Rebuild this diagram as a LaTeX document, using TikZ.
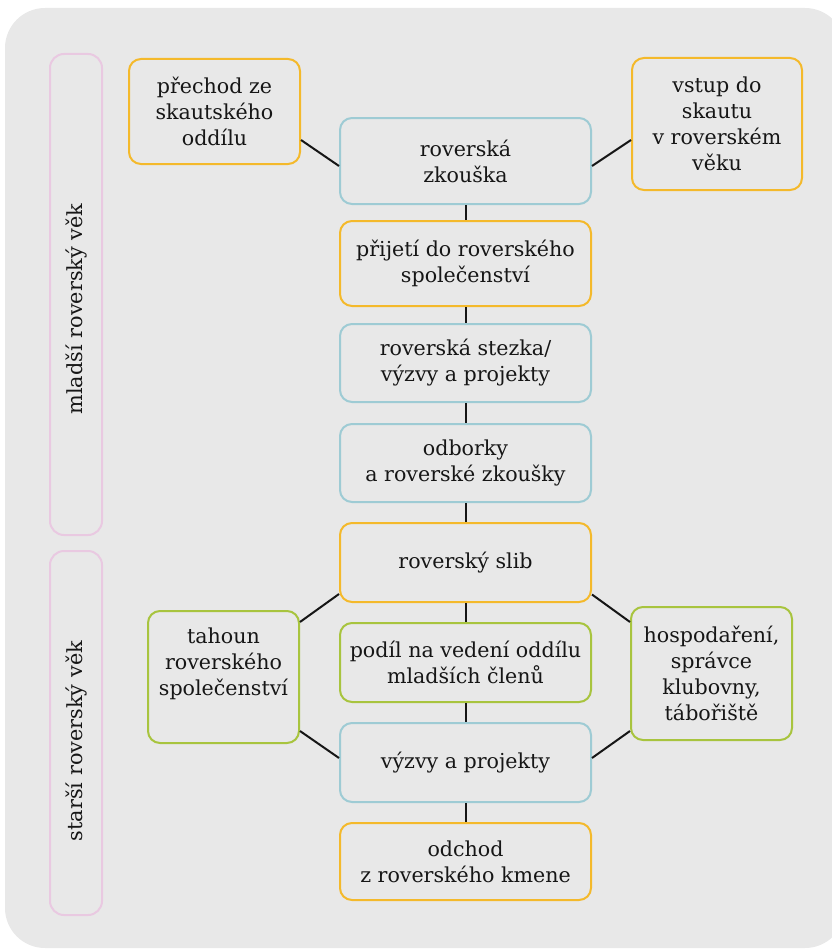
\documentclass[tikz,border=0pt]{standalone}
\usepackage{fontspec}
\setmainfont{DejaVu Serif}
\definecolor{bgc}{HTML}{E8E8E8}
\definecolor{yel}{HTML}{F4B92B}
\definecolor{blu}{HTML}{9ECBD4}
\definecolor{grn}{HTML}{A8C43E}
\definecolor{pnk}{HTML}{E9C9E1}
\definecolor{ink}{HTML}{161616}
\begin{document}
\begin{tikzpicture}[x=1pt,y=-1pt,
  box/.style={draw, line width=2pt, rounded corners=12pt, align=center, inner sep=0pt,
    font=\fontsize{20.6}{26}\selectfont, text=ink},
  ybox/.style={box, draw=yel},
  bbox/.style={box, draw=blu},
  gbox/.style={box, draw=grn},
  mid/.style={minimum width=251pt},
  bar/.style={draw=pnk, line width=2pt, rounded corners=14pt, minimum width=52pt, inner sep=0pt},
  barlabel/.style={rotate=90, font=\fontsize{20.8}{26}\selectfont, text=ink},
  link/.style={draw=ink, line width=2pt}
]
\useasboundingbox (0,0) rectangle (832,950);
\fill[bgc, rounded corners=40pt] (5,8) rectangle (845,948);

% side bars
\node[bar, minimum height=481pt] (bar1) at (76,294.5) {};
\node[barlabel] (lab1) at (76,309) {mladší roverský věk};
\node[bar, minimum height=364pt] (bar2) at (76,733) {};
\node[barlabel] (lab2) at (76,741) {starší roverský věk};

% central column
\node[bbox, mid, minimum height=86pt] (zkouska) at (465.5,161) {roverská\\zkouška};
\node[ybox, mid, minimum height=85pt] (prijeti) at (465.5,263.5) {přijetí do roverského\\společenství};
\node[bbox, mid, minimum height=78pt] (stezka) at (465.5,363) {roverská stezka/\\výzvy a projekty};
\node[bbox, mid, minimum height=78pt] (odborky) at (465.5,463) {odborky\\a roverské zkoušky};
\node[ybox, mid, minimum height=79pt] (slib) at (465.5,562.5) {roverský slib};
\node[gbox, mid, minimum height=79pt] (podil) at (465.5,662.5) {podíl na vedení oddílu\\mladších členů};
\node[bbox, mid, minimum height=79pt] (vyzvy) at (465.5,762.5) {výzvy a projekty};
\node[ybox, mid, minimum height=77pt] (odchod) at (465.5,861.5) {odchod\\z roverského kmene};

% side boxes
\node[ybox, minimum width=171pt, minimum height=105pt] (prechod) at (214.5,111.5) {přechod ze\\skautského\\oddílu};
\node[ybox, minimum width=170pt, minimum height=132pt] (vstup) at (717,124) {vstup do\\skautu\\v roverském\\věku};
\node[gbox, minimum width=151pt, minimum height=132pt] (tahoun) at (223.5,677) {tahoun\\roverského\\společenství\\[4pt]};
\node[gbox, minimum width=161pt, minimum height=133pt] (hosp) at (711.5,673.5) {hospodaření,\\správce\\klubovny,\\tábořiště};

% vertical links
\draw[link] (zkouska.south) -- (prijeti.north);
\draw[link] (prijeti.south) -- (stezka.north);
\draw[link] (stezka.south) -- (odborky.north);
\draw[link] (odborky.south) -- (slib.north);
\draw[link] (slib.south) -- (podil.north);
\draw[link] (podil.south) -- (vyzvy.north);
\draw[link] (vyzvy.south) -- (odchod.north);

% diagonal links
\draw[link] ([yshift=-28.5pt]prechod.east) -- ([yshift=-5pt]zkouska.west);
\draw[link] ([yshift=-16pt]vstup.west) -- ([yshift=-5pt]zkouska.east);
\draw[link] ([yshift=55pt]tahoun.east) -- ([yshift=-31.5pt]slib.west);
\draw[link] ([yshift=-54pt]tahoun.east) -- ([yshift=4.5pt]vyzvy.west);
\draw[link] ([yshift=51.5pt]hosp.west) -- ([yshift=-32pt]slib.east);
\draw[link] ([yshift=-57.5pt]hosp.west) -- ([yshift=4.5pt]vyzvy.east);
\end{tikzpicture}
\end{document}
